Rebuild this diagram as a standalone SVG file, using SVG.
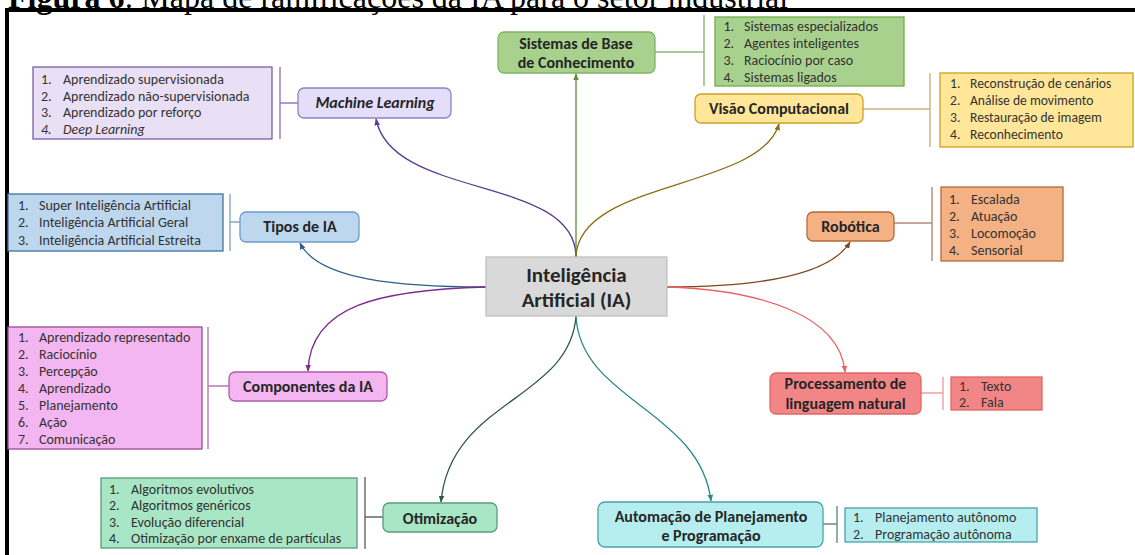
<svg xmlns="http://www.w3.org/2000/svg" width="1135" height="555" viewBox="0 0 1135 555">
<defs>
<style>
.t{font-family:Carlito,Lato,"Liberation Sans",sans-serif;fill:#262626}
.n{font-size:16px;font-weight:bold;text-anchor:middle}
.li{font-size:14px;fill:#333}
.c{fill:none;stroke-width:1.3}
.b{fill:none;stroke-width:1.4}
</style>
<marker id="m1" viewBox="0 0 10 10" refX="9" refY="5" markerWidth="7" markerHeight="7" markerUnits="userSpaceOnUse" orient="auto"><path d="M0,1 L10,5 L0,9 z" fill="#5b3d8f"/></marker>
<marker id="m2" viewBox="0 0 10 10" refX="9" refY="5" markerWidth="7" markerHeight="7" markerUnits="userSpaceOnUse" orient="auto"><path d="M0,1 L10,5 L0,9 z" fill="#5e8a3c"/></marker>
<marker id="m3" viewBox="0 0 10 10" refX="9" refY="5" markerWidth="7" markerHeight="7" markerUnits="userSpaceOnUse" orient="auto"><path d="M0,1 L10,5 L0,9 z" fill="#8c6d12"/></marker>
<marker id="m4" viewBox="0 0 10 10" refX="9" refY="5" markerWidth="7" markerHeight="7" markerUnits="userSpaceOnUse" orient="auto"><path d="M0,1 L10,5 L0,9 z" fill="#2e5f8a"/></marker>
<marker id="m5" viewBox="0 0 10 10" refX="9" refY="5" markerWidth="7" markerHeight="7" markerUnits="userSpaceOnUse" orient="auto"><path d="M0,1 L10,5 L0,9 z" fill="#7b2d8b"/></marker>
<marker id="m6" viewBox="0 0 10 10" refX="9" refY="5" markerWidth="7" markerHeight="7" markerUnits="userSpaceOnUse" orient="auto"><path d="M0,1 L10,5 L0,9 z" fill="#7f441e"/></marker>
<marker id="m7" viewBox="0 0 10 10" refX="9" refY="5" markerWidth="7" markerHeight="7" markerUnits="userSpaceOnUse" orient="auto"><path d="M0,1 L10,5 L0,9 z" fill="#ee5f5f"/></marker>
<marker id="m8" viewBox="0 0 10 10" refX="9" refY="5" markerWidth="7" markerHeight="7" markerUnits="userSpaceOnUse" orient="auto"><path d="M0,1 L10,5 L0,9 z" fill="#2d5a3d"/></marker>
<marker id="m9" viewBox="0 0 10 10" refX="9" refY="5" markerWidth="7" markerHeight="7" markerUnits="userSpaceOnUse" orient="auto"><path d="M0,1 L10,5 L0,9 z" fill="#2a8a8a"/></marker>
</defs>
<rect width="1135" height="555" fill="#ffffff"/>

<g id="title">
<text x="8" y="7.5" style="font-family:'Liberation Serif',serif;font-size:32px;fill:#000"><tspan font-weight="bold">Figura 6</tspan>: Mapa de ramificações da IA para o setor industrial</text>
<rect x="5" y="8" width="1130" height="4" fill="#000"/>
<rect x="5" y="8" width="4" height="547" fill="#000"/>
</g>

<g id="connectors">
<path class="c" stroke="#5b3d8f" d="M576,257 C576,175 392,200 376,119" marker-end="url(#m1)"/>
<path class="c" stroke="#5e8a3c" d="M576,257 L576,74" marker-end="url(#m2)"/>
<path class="c" stroke="#8c6d12" d="M576,257 C578,180 760,190 779,124" marker-end="url(#m3)"/>
<path class="c" stroke="#2e5f8a" d="M486,287 C400,287 318,280 300,243" marker-end="url(#m4)"/>
<path class="c" stroke="#7b2d8b" d="M486,287 C380,290 310,305 308,371" marker-end="url(#m5)"/>
<path class="c" stroke="#7f441e" d="M667,287 C760,287 830,275 850,242" marker-end="url(#m6)"/>
<path class="c" stroke="#ee5f5f" d="M667,287 C760,290 840,315 845,372" marker-end="url(#m7)"/>
<path class="c" stroke="#2d5a3d" d="M576,316 C570,400 450,400 441,502" marker-end="url(#m8)"/>
<path class="c" stroke="#2a8a8a" d="M576,316 C580,400 700,410 711,501" marker-end="url(#m9)"/>
</g>

<g id="central">
<rect x="486" y="257" width="181" height="59" fill="#d9d9d9" stroke="#bdbdbd" stroke-width="1.2"/>
<text class="t" x="576.5" y="282" style="font-size:21px;font-weight:bold;text-anchor:middle">Inteligência</text>
<text class="t" x="576.5" y="307" style="font-size:21px;font-weight:bold;text-anchor:middle">Artificial (IA)</text>
</g>

<g id="machine-learning">
<rect x="33" y="67" width="239" height="72" fill="#e9e0f6" stroke="#7a5fa8" stroke-width="1.3"/>
<path class="b" stroke="#8e7cc3" d="M280,67 V139 M280,103 H298"/>
<rect x="298" y="88" width="153" height="30" rx="6" fill="#e5defa" stroke="#8e82c0" stroke-width="1.3"/>
<text class="t n" x="375" y="108" font-style="italic">Machine Learning</text>
<text class="t li" y="84"><tspan x="41">1.</tspan><tspan x="63">Aprendizado supervisionada</tspan></text>
<text class="t li" y="100.7"><tspan x="41">2.</tspan><tspan x="63">Aprendizado não-supervisionada</tspan></text>
<text class="t li" y="117.4"><tspan x="41">3.</tspan><tspan x="63">Aprendizado por reforço</tspan></text>
<text class="t li" y="134" font-style="italic"><tspan x="41">4.</tspan><tspan x="63">Deep Learning</tspan></text>
</g>

<g id="sistemas-base">
<rect x="715" y="17" width="189" height="69" fill="#a9d18e" stroke="#70ad47" stroke-width="1.3"/>
<path class="b" stroke="#8fb573" d="M704,15 V86 M655,52 H704"/>
<rect x="498" y="32" width="157" height="41" rx="6" fill="#a9d18e" stroke="#82b366" stroke-width="1.3"/>
<text class="t n" x="576" y="48.5">Sistemas de Base</text>
<text class="t n" x="576" y="67.5">de Conhecimento</text>
<text class="t li" y="30.5"><tspan x="723.5">1.</tspan><tspan x="744">Sistemas especializados</tspan></text>
<text class="t li" y="47.5"><tspan x="723.5">2.</tspan><tspan x="744">Agentes inteligentes</tspan></text>
<text class="t li" y="64.5"><tspan x="723.5">3.</tspan><tspan x="744">Raciocínio por caso</tspan></text>
<text class="t li" y="81.5"><tspan x="723.5">4.</tspan><tspan x="744">Sistemas ligados</tspan></text>
</g>

<g id="visao">
<rect x="940" y="73" width="193" height="74" fill="#ffe699" stroke="#c9a227" stroke-width="1.3"/>
<path class="b" stroke="#c9b27a" d="M930,73 V147 M863,109 H930"/>
<rect x="695" y="94" width="168" height="29" rx="6" fill="#ffe699" stroke="#c9a227" stroke-width="1.3"/>
<text class="t n" x="779" y="114">Visão Computacional</text>
<g style="font-size:13.6px">
<text class="t" y="88" style="font-size:13.6px;fill:#333"><tspan x="950">1.</tspan><tspan x="970">Reconstrução de cenários</tspan></text>
<text class="t" y="105" style="font-size:13.6px;fill:#333"><tspan x="950">2.</tspan><tspan x="970">Análise de movimento</tspan></text>
<text class="t" y="122" style="font-size:13.6px;fill:#333"><tspan x="950">3.</tspan><tspan x="970">Restauração de imagem</tspan></text>
<text class="t" y="139" style="font-size:13.6px;fill:#333"><tspan x="950">4.</tspan><tspan x="970">Reconhecimento</tspan></text>
</g>
</g>

<g id="tipos">
<rect x="8" y="194" width="215" height="57" fill="#bdd7ee" stroke="#41719c" stroke-width="1.3"/>
<path class="b" stroke="#8aa6c4" d="M230,194 V251 M230,222 H240"/>
<rect x="240" y="212" width="119" height="30" rx="6" fill="#bdd7ee" stroke="#6f9cc8" stroke-width="1.3"/>
<text class="t n" x="300" y="232">Tipos de IA</text>
<text class="t li" y="209.5"><tspan x="18">1.</tspan><tspan x="39">Super Inteligência Artificial</tspan></text>
<text class="t li" y="227"><tspan x="18">2.</tspan><tspan x="39">Inteligência Artificial Geral</tspan></text>
<text class="t li" y="244.5"><tspan x="18">3.</tspan><tspan x="39">Inteligência Artificial Estreita</tspan></text>
</g>

<g id="componentes">
<rect x="8" y="327" width="194" height="122" fill="#f4b6f0" stroke="#9c4a93" stroke-width="1.3"/>
<path class="b" stroke="#b57aae" d="M208,327 V449 M208,386 H229"/>
<rect x="229" y="372" width="158" height="29" rx="6" fill="#f4b6f0" stroke="#b05aa8" stroke-width="1.3"/>
<text class="t n" x="308" y="392">Componentes da IA</text>
<text class="t li" y="341.5"><tspan x="18">1.</tspan><tspan x="39">Aprendizado representado</tspan></text>
<text class="t li" y="358.5"><tspan x="18">2.</tspan><tspan x="39">Raciocínio</tspan></text>
<text class="t li" y="375.5"><tspan x="18">3.</tspan><tspan x="39">Percepção</tspan></text>
<text class="t li" y="392.5"><tspan x="18">4.</tspan><tspan x="39">Aprendizado</tspan></text>
<text class="t li" y="409.5"><tspan x="18">5.</tspan><tspan x="39">Planejamento</tspan></text>
<text class="t li" y="426.5"><tspan x="18">6.</tspan><tspan x="39">Ação</tspan></text>
<text class="t li" y="443.5"><tspan x="18">7.</tspan><tspan x="39">Comunicação</tspan></text>
</g>

<g id="robotica">
<rect x="941" y="187" width="122" height="74" fill="#f4b183" stroke="#b46a3a" stroke-width="1.3"/>
<path class="b" stroke="#b58a70" d="M932,187 V261 M894,223 H932"/>
<rect x="807" y="212" width="87" height="29" rx="6" fill="#f4b183" stroke="#b46a3a" stroke-width="1.3"/>
<text class="t n" x="850.5" y="231.5">Robótica</text>
<text class="t li" y="203.5"><tspan x="949">1.</tspan><tspan x="971">Escalada</tspan></text>
<text class="t li" y="220.5"><tspan x="949">2.</tspan><tspan x="971">Atuação</tspan></text>
<text class="t li" y="237.5"><tspan x="949">3.</tspan><tspan x="971">Locomoção</tspan></text>
<text class="t li" y="254.5"><tspan x="949">4.</tspan><tspan x="971">Sensorial</tspan></text>
</g>

<g id="processamento">
<rect x="951" y="377" width="91" height="33" fill="#f28686" stroke="#e06666" stroke-width="1.3"/>
<path class="b" stroke="#f0a0a0" d="M943,377 V410 M921,393 H943"/>
<rect x="770" y="373" width="151" height="41" rx="6" fill="#f28686" stroke="#e06666" stroke-width="1.3"/>
<text class="t n" x="845.5" y="388.5">Processamento de</text>
<text class="t n" x="845.5" y="408.5">linguagem natural</text>
<text class="t li" y="390.5"><tspan x="959">1.</tspan><tspan x="981">Texto</tspan></text>
<text class="t li" y="406.5"><tspan x="959">2.</tspan><tspan x="981">Fala</tspan></text>
</g>

<g id="otimizacao">
<rect x="101" y="478" width="256" height="70" fill="#a8e6c6" stroke="#5a9c78" stroke-width="1.3"/>
<path class="b" stroke="#666" d="M365,477 V549 M365,517 H383"/>
<rect x="383" y="503" width="114" height="29" rx="6" fill="#a8e6c6" stroke="#5a9c78" stroke-width="1.3"/>
<text class="t n" x="440" y="523.5">Otimização</text>
<text class="t li" y="493.5"><tspan x="109">1.</tspan><tspan x="131">Algoritmos evolutivos</tspan></text>
<text class="t li" y="510"><tspan x="109">2.</tspan><tspan x="131">Algoritmos genéricos</tspan></text>
<text class="t li" y="526.5"><tspan x="109">3.</tspan><tspan x="131">Evolução diferencial</tspan></text>
<text class="t li" y="543"><tspan x="109">4.</tspan><tspan x="131">Otimização por enxame de partículas</tspan></text>
</g>

<g id="automacao">
<rect x="845" y="508" width="192" height="34" fill="#b6eef0" stroke="#4aa3a8" stroke-width="1.3"/>
<path class="b" stroke="#6a8a8a" d="M837,506 V543 M823,524 H837"/>
<rect x="598" y="502" width="225" height="45" rx="7" fill="#b6eef0" stroke="#4aa3a8" stroke-width="1.3"/>
<text class="t n" x="711" y="522">Automação de Planejamento</text>
<text class="t n" x="711" y="541">e Programação</text>
<text class="t li" y="521.5"><tspan x="853">1.</tspan><tspan x="875">Planejamento autônomo</tspan></text>
<text class="t li" y="538.5"><tspan x="853">2.</tspan><tspan x="875">Programação autônoma</tspan></text>
</g>
</svg>
